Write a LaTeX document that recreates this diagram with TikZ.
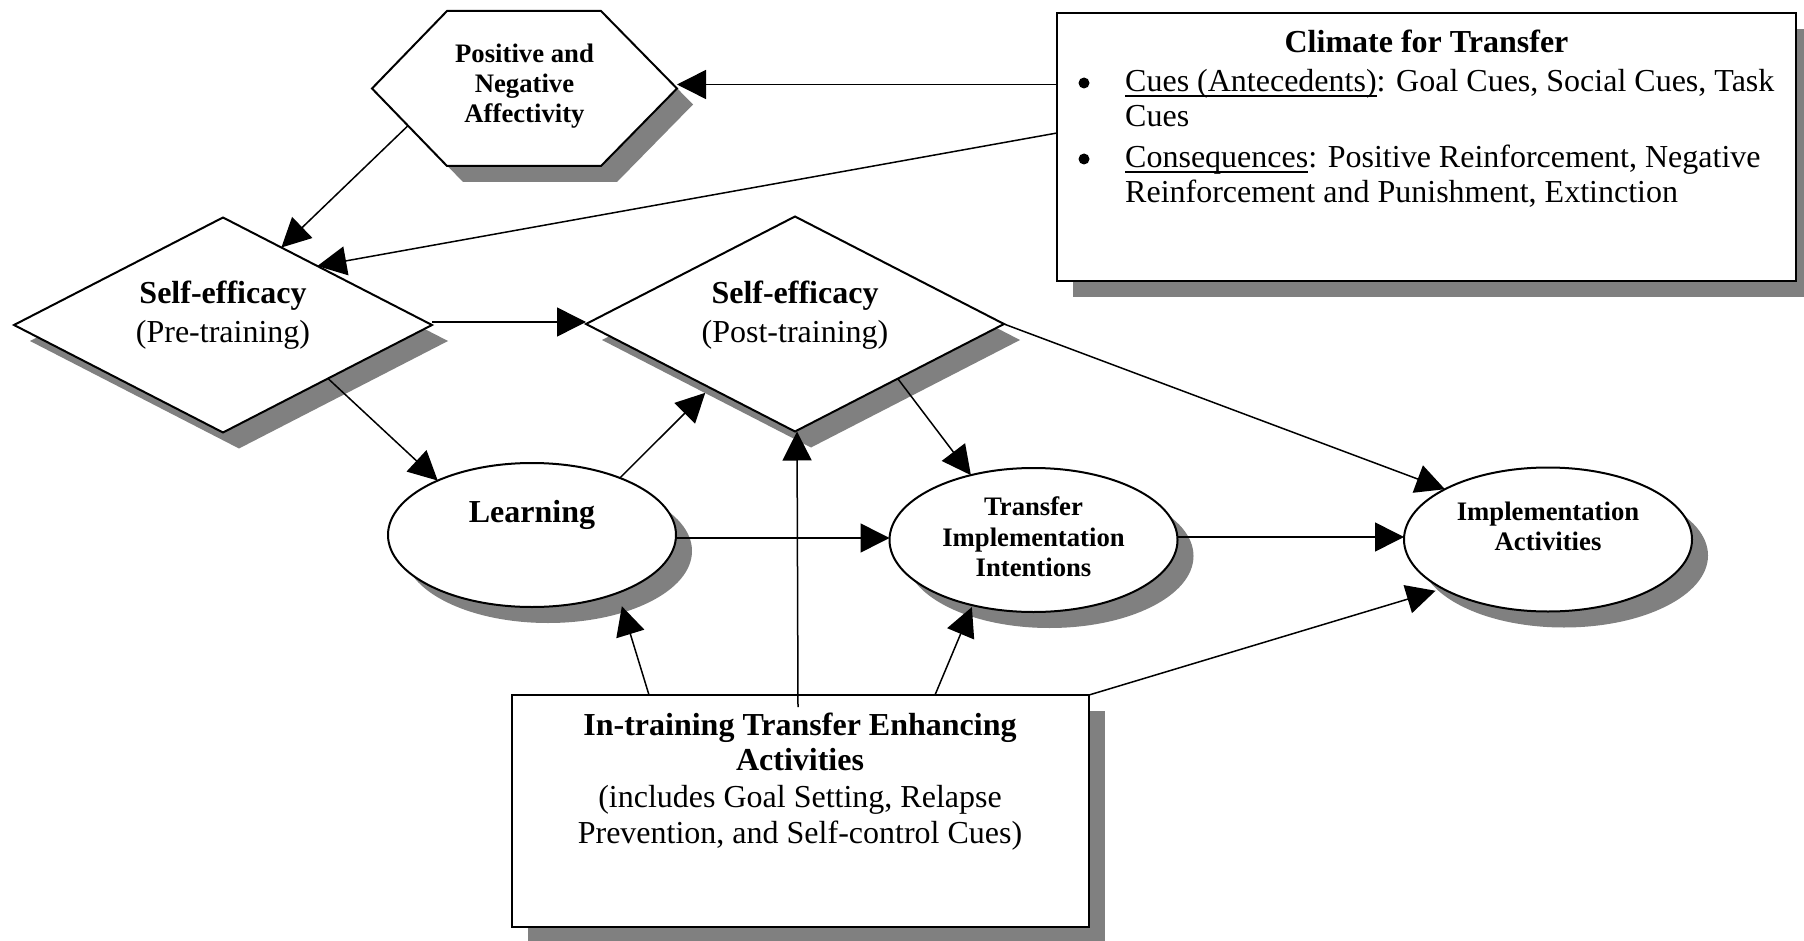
\documentclass[tikz,border=0pt]{standalone}
\usepackage{fontspec}
\setmainfont{Liberation Serif}
\usetikzlibrary{shapes.geometric, arrows.meta, shadows, calc}

\definecolor{shadowgray}{RGB}{128,128,128}
\newsavebox\ulbox
\newcommand{\ulword}[1]{\sbox\ulbox{#1}\rlap{\rule[-5pt]{\wd\ulbox}{1.6pt}}\usebox\ulbox}

\begin{document}
\begin{tikzpicture}[x=1pt, y=-1pt,
  dropsh/.style={drop shadow={shadow xshift=16pt, shadow yshift=-16pt, fill=shadowgray, opacity=1}},
  outline/.style={draw, line width=2pt, fill=white, inner sep=0pt, outer sep=0pt, dropsh},
  dia/.style={outline, diamond, minimum width=418pt, minimum height=215pt},
  ell/.style={outline, ellipse, minimum width=288pt, minimum height=144pt},
  rectbox/.style={outline, rectangle},
  big/.style={font=\fontsize{32}{36}\selectfont},
  bigb/.style={font=\fontsize{32}{36}\selectfont\bfseries},
  smallb/.style={font=\fontsize{26.7}{29}\selectfont\bfseries},
  txt/.style={inner sep=0pt, anchor=base},
  txtl/.style={inner sep=0pt, anchor=base west, big},
  dot/.style={circle, fill=black, inner sep=0pt, minimum size=11pt},
  arr/.style={line width=1.5pt, -{Triangle[length=29pt, width=29pt]}},
]
% canvas
\path[fill=white, use as bounding box] (0,0) rectangle (1804,941);

% ---------- shapes ----------
% hexagon: an invisible frame node, outline drawn from its anchors
\node[inner sep=0pt, outer sep=0pt, minimum width=305pt, minimum height=155pt] (affect) at (524.5,88.5) {};
\path[draw, line width=2pt, fill=white, dropsh]
  (affect.west) -- ([xshift=75pt]affect.north west) -- ([xshift=-76pt]affect.north east)
  -- (affect.east) -- ([xshift=-76pt]affect.south east) -- ([xshift=75pt]affect.south west) -- cycle;

\node[rectbox, minimum width=739pt, minimum height=268pt] (climate) at (1426.5,147) {};
\node[dia] (d1) at (223,325) {};
\node[dia] (d2) at (795,324) {};
\node[ell] (learn) at (532,535) {};
\node[ell] (tii) at (1033.5,540) {};
\node[ell] (ia) at (1548,539.5) {};
\node[rectbox, minimum width=577pt, minimum height=232pt] (intr) at (800.5,811) {};

% ---------- connectors ----------
\coordinate (affR) at ([yshift=4pt]affect.east);
\draw[arr] (climate.west |- affR) -- (affR);
\draw[arr] ([yshift=14pt]climate.west) -- (d1.32.7);
\draw[arr] ($(affect.west)!0.48!([xshift=75pt]affect.south west)$) -- (d1.53.4);

\coordinate (d1r) at ([yshift=3pt]d1.east);
\draw[arr] (d1r) -- (d1r -| d2.west);
\draw[arr] (d1.-27) -- (learn.150);
\draw[arr, shorten >=7pt] (learn.33) -- (d2.217);
\draw[arr] ($(d2.south |- intr.north)+(3,12)$) -- ($(d2.south)+(2,0)$);
\draw[arr, shorten >=14pt] ([xshift=-151.5pt]intr.north) -- (learn.-34.5);
\draw[arr, shorten >=2pt] ([xshift=134.5pt]intr.north) -- (tii.227);
\draw[arr, shorten >=7.5pt] (intr.north east) -- (ia.205.7);

\coordinate (lr) at ([yshift=-3pt]learn.east);
\draw[arr] (lr) -- (lr -| tii.west);
\coordinate (tr) at ([yshift=3pt]tii.east);
\draw[arr] (tr) -- (tr -| ia.west);
\draw[arr] (d2.-28.6) -- (tii.134.3);
\draw[arr] (d2.east) -- (ia.154.1);

% ---------- texts ----------
\node[txt, smallb] (a1) at (524.5,63) {Positive and};
\node[txt, smallb] (a2) at (524.5,93) {Negative};
\node[txt, smallb] (a3) at (524.5,123) {Affectivity};

\node[txt, bigb] (c0) at (1426.5,53) {Climate for Transfer};
\node[dot] (b1) at (1084,83) {};
\node[txtl] (c1) at (1125,92) {\ulword{Cues (Antecedents)}: Goal Cues, Social Cues, Task};
\node[txtl] (c2) at (1125,127) {Cues};
\node[dot] (b2) at (1084,159) {};
\node[txtl] (c3) at (1125,168) {\ulword{Consequences}: Positive Reinforcement, Negative};
\node[txtl] (c4) at (1125,203) {Reinforcement and Punishment, Extinction};

\node[txt, bigb] (s1a) at (223,304) {Self-efficacy};
\node[txt, big] (s1b) at (223,342) {(Pre-training)};
\node[txt, bigb] (s2a) at (795,304) {Self-efficacy};
\node[txt, big] (s2b) at (795,342) {(Post-training)};

\node[txt, bigb] (l1) at (532,522) {Learning};

\node[txt, smallb] (t1) at (1033.5,515) {Transfer};
\node[txt, smallb] (t2) at (1033.5,546) {Implementation};
\node[txt, smallb] (t3) at (1033.5,576) {Intentions};

\node[txt, smallb] (i1) at (1548,520) {Implementation};
\node[txt, smallb] (i2) at (1548,550) {Activities};

\node[txt, bigb] (e1) at (800,735) {In-training Transfer Enhancing};
\node[txt, bigb] (e2) at (800,770) {Activities};
\node[txt, big] (e3) at (800,807) {(includes Goal Setting, Relapse};
\node[txt, big] (e4) at (800,843) {Prevention, and Self-control Cues)};
\end{tikzpicture}
\end{document}
